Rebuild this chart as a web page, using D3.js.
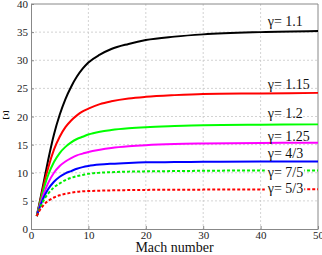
<!DOCTYPE html>
<html>
<head>
<meta charset="utf-8">
<script src="https://cdn.jsdelivr.net/npm/d3@7"></script>
<style>
  body { margin: 0; background: #fff; }
  text { font-family: "Liberation Serif", "DejaVu Serif", serif; }
</style>
</head>
<body>
<div id="chart"></div>
<script>
// Data
const mach = [1, 1.5, 2, 2.5, 3, 4, 5, 6, 7, 8, 9, 10, 12, 14, 17, 20, 25, 30, 40, 50];
const g1_1 = [2.3, 4.7, 7.2, 9.8, 12.3, 16.8, 20.3, 23.1, 25.3, 27.1, 28.5, 29.6, 31.0, 32.0, 32.9, 33.6, 34.2, 34.6, 35.0, 35.2];
const g1_15 = [2.3, 4.5, 6.8, 9.0, 10.9, 14.1, 16.4, 18.1, 19.3, 20.2, 20.9, 21.4, 22.2, 22.7, 23.2, 23.5, 23.8, 24.0, 24.1, 24.2];
const g1_2 = [2.3, 4.3, 6.3, 8.1, 9.6, 11.9, 13.5, 14.6, 15.4, 16.0, 16.4, 16.8, 17.3, 17.6, 17.9, 18.1, 18.3, 18.45, 18.55, 18.6];
const g1_25 = [2.3, 4.0, 5.6, 7.0, 8.2, 10.0, 11.2, 12.0, 12.6, 13.1, 13.4, 13.7, 14.1, 14.4, 14.7, 14.9, 15.1, 15.2, 15.3, 15.35];
const g4_3 = [2.3, 3.8, 5.1, 6.2, 7.1, 8.4, 9.3, 9.9, 10.3, 10.7, 11.0, 11.2, 11.45, 11.6, 11.75, 11.85, 11.9, 11.95, 12.0, 12.0];
const g7_5 = [2.3, 3.6, 4.7, 5.6, 6.3, 7.4, 8.1, 8.7, 9.1, 9.4, 9.6, 9.8, 10.0, 10.1, 10.2, 10.25, 10.3, 10.35, 10.4, 10.4];
const g5_3 = [2.3, 3.3, 4.0, 4.6, 5.0, 5.6, 6.0, 6.25, 6.45, 6.6, 6.7, 6.75, 6.82, 6.87, 6.92, 6.95, 6.98, 7.0, 7.03, 7.05];

const seriesNames = ["γ= 1.1", "γ= 1.15", "γ= 1.2", "γ= 1.25", "γ= 4/3", "γ= 7/5", "γ= 5/3"];
const seriesValues = [g1_1, g1_15, g1_2, g1_25, g4_3, g7_5, g5_3];
const colors = ["#000000", "#ff0000", "#00ff00", "#ff00ff", "#0000ff", "#00ee00", "#ff0000"];
const dashed = [false, false, false, false, false, true, true];
// label vertical position in data units (centre of text)
const labelY = [36.9, 25.8, 20.6, 16.5, 13.5, 10.2, 7.3];

const xTicks = [0, 10, 20, 30, 40, 50];
const yTicks = [0, 5, 10, 15, 20, 25, 30, 35, 40];

const dimensions = {
  width: 322,
  height: 255,
  margin: { top: 4, right: 4, bottom: 26, left: 31 },
};
dimensions.containerWidth = dimensions.width - dimensions.margin.left - dimensions.margin.right;
dimensions.containerHeight = dimensions.height - dimensions.margin.top - dimensions.margin.bottom;

const svg = d3.select("#chart").append("svg")
  .attr("width", dimensions.width)
  .attr("height", dimensions.height);

const container = svg.append("g")
  .attr("transform", `translate(${dimensions.margin.left}, ${dimensions.margin.top})`);

const xScale = d3.scaleLinear().domain([0, 50]).range([0, dimensions.containerWidth]);
const yScale = d3.scaleLinear().domain([0, 40]).range([dimensions.containerHeight, 0]);

// Grid
container.append("g").selectAll("line").data(xTicks.slice(1, -1)).join("line")
  .attr("x1", d => xScale(d)).attr("x2", d => xScale(d))
  .attr("y1", 0).attr("y2", dimensions.containerHeight)
  .attr("stroke", "#c8c8c8").attr("stroke-dasharray", "2,2").attr("stroke-width", 0.8);
container.append("g").selectAll("line").data(yTicks.slice(1, -1)).join("line")
  .attr("y1", d => yScale(d)).attr("y2", d => yScale(d))
  .attr("x1", 0).attr("x2", dimensions.containerWidth)
  .attr("stroke", "#c8c8c8").attr("stroke-dasharray", "2,2").attr("stroke-width", 0.8);

// Axes
const xAxis = d3.axisBottom(xScale).tickValues(xTicks).tickSize(-3).tickSizeOuter(0).tickPadding(2);
const yAxis = d3.axisLeft(yScale).tickValues(yTicks).tickSize(-3).tickSizeOuter(0).tickPadding(3);

const xAxisG = container.append("g")
  .attr("transform", `translate(0, ${dimensions.containerHeight})`)
  .call(xAxis);
const yAxisG = container.append("g").call(yAxis);

[xAxisG, yAxisG].forEach(g => {
  g.select(".domain").attr("stroke", "#888");
  g.selectAll(".tick line").attr("stroke", "#888");
  g.selectAll(".tick text").attr("fill", "#222").style("font-size", "11px")
    .style("font-family", "'Liberation Serif', serif");
});

// box top/right
container.append("line").attr("x1", 0).attr("x2", dimensions.containerWidth)
  .attr("y1", 0).attr("y2", 0).attr("stroke", "#888");
container.append("line").attr("x1", dimensions.containerWidth).attr("x2", dimensions.containerWidth)
  .attr("y1", 0).attr("y2", dimensions.containerHeight).attr("stroke", "#888");

// Lines
const line = d3.line()
  .x((d, i) => xScale(mach[i]))
  .y(d => yScale(d))
  .curve(d3.curveMonotoneX);

container.append("g").selectAll("path").data(seriesValues).join("path")
  .attr("d", d => line(d))
  .attr("fill", "none")
  .attr("stroke", (d, i) => colors[i])
  .attr("stroke-width", 2)
  .attr("stroke-dasharray", (d, i) => dashed[i] ? "3,2" : null);

// Series labels
const labels = container.append("g").selectAll("g").data(seriesNames).join("g");
labels.append("text")
  .attr("x", xScale(41.6) - 2)
  .attr("y", (d, i) => yScale(labelY[i]))
  .attr("dy", "0.35em")
  .attr("text-anchor", "start")
  .style("font-size", "14px")
  .attr("fill", "#111")
  .text(d => d)
  .each(function (d, i) {
    if (dashed[i]) {
      const b = this.getBBox();
      d3.select(this.parentNode).insert("rect", "text")
        .attr("x", b.x - 2).attr("y", b.y + 2)
        .attr("width", b.width + 3).attr("height", b.height - 3)
        .attr("fill", "#fff");
    }
  });

// Axis titles
svg.append("text")
  .attr("x", dimensions.margin.left + dimensions.containerWidth / 2)
  .attr("y", dimensions.height - 3)
  .attr("text-anchor", "middle")
  .style("font-size", "14px")
  .attr("fill", "#111")
  .text("Mach number");

svg.append("text")
  .attr("x", 6)
  .attr("y", 115)
  .attr("dy", "0.35em")
  .attr("text-anchor", "middle")
  .style("font-size", "12px")
  .attr("fill", "#111")
  .text("Ξ");
</script>
</body>
</html>
